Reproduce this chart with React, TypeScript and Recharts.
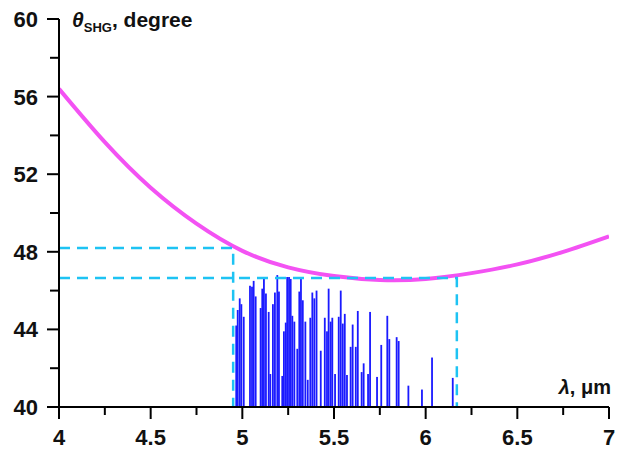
import { ComposedChart, Bar, Line, XAxis, YAxis, Label } from 'recharts'

// phase-matching angle vs wavelength
const curve = [
  { lambda: 4.0, theta: 56.4 },
  { lambda: 4.25, theta: 53.65 },
  { lambda: 4.5, theta: 51.3 },
  { lambda: 4.75, theta: 49.45 },
  { lambda: 5.0, theta: 48.05 },
  { lambda: 5.25, theta: 47.2 },
  { lambda: 5.5, theta: 46.75 },
  { lambda: 5.75, theta: 46.55 },
  { lambda: 6.0, theta: 46.6 },
  { lambda: 6.25, theta: 46.9 },
  { lambda: 6.5, theta: 47.35 },
  { lambda: 6.75, theta: 48.0 },
  { lambda: 7.0, theta: 48.8 },
]

// spectrum lines (peak heights plotted on the angle scale)
const spikes = [
  { lambda: 4.967, theta: 44.2 },
  { lambda: 4.975, theta: 45.0 },
  { lambda: 4.986, theta: 45.6 },
  { lambda: 4.995, theta: 45.3 },
  { lambda: 5.008, theta: 44.65 },
  { lambda: 5.042, theta: 46.25 },
  { lambda: 5.053, theta: 46.2 },
  { lambda: 5.062, theta: 46.5 },
  { lambda: 5.073, theta: 45.7 },
  { lambda: 5.1, theta: 45.1 },
  { lambda: 5.109, theta: 46.1 },
  { lambda: 5.118, theta: 46.6 },
  { lambda: 5.129, theta: 45.85 },
  { lambda: 5.144, theta: 44.9 },
  { lambda: 5.153, theta: 41.7 },
  { lambda: 5.167, theta: 45.3 },
  { lambda: 5.178, theta: 45.9 },
  { lambda: 5.191, theta: 46.8 },
  { lambda: 5.2, theta: 45.95 },
  { lambda: 5.218, theta: 41.6 },
  { lambda: 5.227, theta: 43.9 },
  { lambda: 5.237, theta: 44.35 },
  { lambda: 5.245, theta: 46.7 },
  { lambda: 5.255, theta: 46.7 },
  { lambda: 5.264, theta: 46.6 },
  { lambda: 5.273, theta: 44.7 },
  { lambda: 5.284, theta: 44.4 },
  { lambda: 5.3, theta: 43.0 },
  { lambda: 5.311, theta: 45.95 },
  { lambda: 5.32, theta: 46.7 },
  { lambda: 5.33, theta: 45.5 },
  { lambda: 5.344, theta: 44.4 },
  { lambda: 5.357, theta: 41.4 },
  { lambda: 5.371, theta: 44.6 },
  { lambda: 5.382, theta: 45.9 },
  { lambda: 5.393, theta: 45.6 },
  { lambda: 5.405, theta: 46.0 },
  { lambda: 5.428, theta: 42.9 },
  { lambda: 5.45, theta: 44.6 },
  { lambda: 5.462, theta: 43.9 },
  { lambda: 5.471, theta: 46.1 },
  { lambda: 5.482, theta: 44.4 },
  { lambda: 5.491, theta: 44.6 },
  { lambda: 5.506, theta: 41.7 },
  { lambda: 5.526, theta: 44.65 },
  { lambda: 5.537, theta: 46.0 },
  { lambda: 5.548, theta: 44.3 },
  { lambda: 5.559, theta: 44.8 },
  { lambda: 5.571, theta: 41.65 },
  { lambda: 5.591, theta: 43.1 },
  { lambda: 5.602, theta: 44.25 },
  { lambda: 5.619, theta: 43.1 },
  { lambda: 5.63, theta: 44.95 },
  { lambda: 5.651, theta: 41.8 },
  { lambda: 5.662, theta: 42.25 },
  { lambda: 5.686, theta: 41.7 },
  { lambda: 5.697, theta: 44.9 },
  { lambda: 5.735, theta: 41.55 },
  { lambda: 5.758, theta: 43.2 },
  { lambda: 5.791, theta: 44.7 },
  { lambda: 5.802, theta: 43.5 },
  { lambda: 5.842, theta: 43.6 },
  { lambda: 5.853, theta: 43.4 },
  { lambda: 5.906, theta: 41.1 },
  { lambda: 5.98, theta: 40.9 },
  { lambda: 6.035, theta: 42.55 },
  { lambda: 6.148, theta: 41.5 },
]

// guide lines marking the tuning range
const guideShort = [
  { lambda: 4.0, theta: 48.2 },
  { lambda: 4.95, theta: 48.2 },
  { lambda: 4.95, theta: 40 },
]
const guideLong = [
  { lambda: 4.0, theta: 46.65 },
  { lambda: 6.17, theta: 46.65 },
  { lambda: 6.17, theta: 40 },
]

const xTicks = [4, 4.25, 4.5, 4.75, 5, 5.25, 5.5, 5.75, 6, 6.25, 6.5, 6.75, 7]
const xMajor = [4, 4.5, 5, 5.5, 6, 6.5, 7]
const yTicks = [40, 42, 44, 46, 48, 50, 52, 54, 56, 58, 60]
const yMajor = [40, 44, 48, 52, 56, 60]

const FONT = '"Liberation Sans", Arial, Helvetica, sans-serif'
const INK = '#000'
const SPIKE_WIDTH = 1.8

function XTick({ x, y, payload }: any) {
  const major = xMajor.includes(payload.value)
  return (
    <g>
      <line x1={x} x2={x} y1={y} y2={y + (major ? 12 : 8)} stroke={INK} strokeWidth={2} />
      {major && (
        <text x={x} y={y + 38} textAnchor="middle" fontFamily={FONT} fontWeight="bold" fontSize={22} fill="#111">
          {payload.value}
        </text>
      )}
    </g>
  )
}

function YTick({ x, y, payload }: any) {
  const major = yMajor.includes(payload.value)
  return (
    <g>
      <line x1={x} x2={x - (major ? 12 : 9)} y1={y} y2={y} stroke={INK} strokeWidth={2} />
      {major && (
        <text x={38} y={y + 8} textAnchor="end" fontFamily={FONT} fontWeight="bold" fontSize={22} fill="#111">
          {payload.value}
        </text>
      )}
    </g>
  )
}

// thin vertical line centred on the bar slot, independent of the band width
function Spike({ x, y, width, height, fill }: any) {
  if (height == null || height <= 0) return null
  return <rect x={x + width / 2 - SPIKE_WIDTH / 2} y={y} width={SPIKE_WIDTH} height={height} fill={fill} />
}

const YTitle = () => (
  <text x={72} y={27} fontFamily={FONT} fontWeight="bold" fontSize={21} fill="#111">
    <tspan fontStyle="italic">θ</tspan>
    <tspan fontSize={13} dy={5}>SHG</tspan>
    <tspan dy={-5}>, degree</tspan>
  </text>
)

const XTitle = () => (
  <text x={611} y={394} textAnchor="end" fontFamily={FONT} fontWeight="bold" fontSize={20} fill="#111">
    <tspan fontStyle="italic">λ</tspan>
    <tspan>, μm</tspan>
  </text>
)

export default function App() {
  return (
    <div style={{ position: 'absolute', left: 0, top: 0, background: '#fff' }}>
      <ComposedChart
        width={622}
        height={450}
        data={spikes}
        margin={{ top: 19, right: 13, bottom: 0, left: 0 }}
      >
        <XAxis
          dataKey="lambda"
          type="number"
          domain={[4, 7]}
          ticks={xTicks}
          interval={0}
          height={43}
          tickSize={0}
          tickMargin={0}
          tickLine={false}
          tick={<XTick />}
          axisLine={{ stroke: INK, strokeWidth: 2 }}
          allowDataOverflow
        >
          <Label content={<XTitle />} />
        </XAxis>
        <YAxis
          type="number"
          domain={[40, 60]}
          ticks={yTicks}
          interval={0}
          width={59}
          tickSize={0}
          tickMargin={0}
          tickLine={false}
          tick={<YTick />}
          axisLine={{ stroke: INK, strokeWidth: 2 }}
          allowDataOverflow
        >
          <Label content={<YTitle />} />
        </YAxis>
        <Bar dataKey="theta" barSize={1} fill="#1a1aff" shape={<Spike />} isAnimationActive={false} />
        <Line
          data={curve}
          dataKey="theta"
          type="natural"
          stroke="#f352f3"
          strokeWidth={4}
          dot={false}
          activeDot={false}
          isAnimationActive={false}
        />
        <Line
          data={guideShort}
          dataKey="theta"
          type="linear"
          stroke="#1ec3f3"
          strokeWidth={2.5}
          strokeDasharray="11 7"
          dot={false}
          activeDot={false}
          isAnimationActive={false}
        />
        <Line
          data={guideLong}
          dataKey="theta"
          type="linear"
          stroke="#1ec3f3"
          strokeWidth={2.5}
          strokeDasharray="11 7"
          dot={false}
          activeDot={false}
          isAnimationActive={false}
        />
      </ComposedChart>
    </div>
  )
}
